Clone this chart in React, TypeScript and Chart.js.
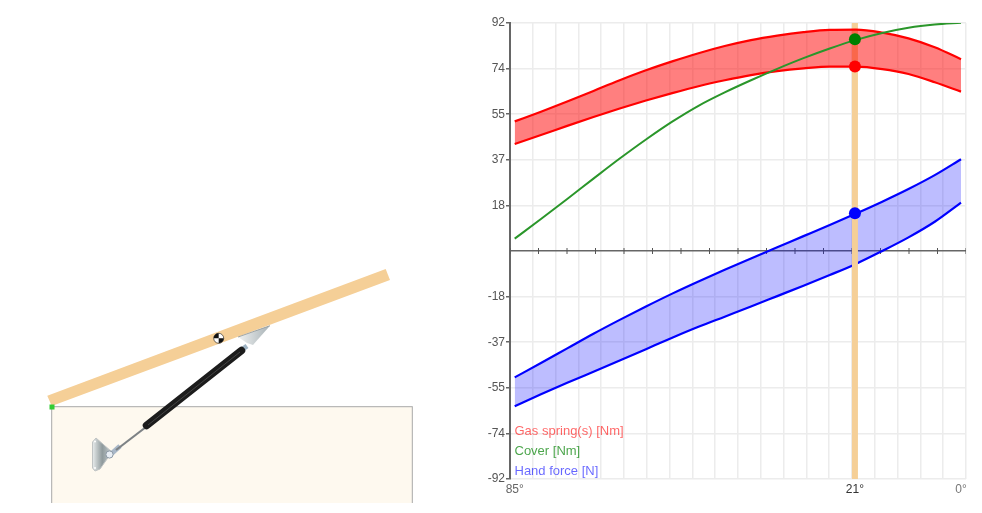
import React, { useEffect, useRef } from "react";
import { Chart, registerables } from "chart.js";

Chart.register(...registerables);

const angles = [85, 80, 75, 70, 65, 60, 55, 50, 45, 40, 35, 30, 25, 20, 15, 10, 5, 0];
const gasUpper = [52.3, 56.2, 60.3, 64.6, 68.9, 72.9, 76.5, 79.8, 82.7, 85.1, 86.9, 88.3, 89.2, 89.3, 88.1, 85.8, 82.2, 77.4];
const gasLower = [43.2, 46.8, 50.5, 54.1, 57.5, 60.7, 63.7, 66.5, 68.9, 71, 72.6, 73.7, 74.4, 74.4, 73.4, 71.4, 68.1, 64.3];
const cover = [5, 12.9, 21, 29.2, 37.3, 45, 52.2, 58.6, 64, 68.9, 73.5, 77.8, 81.7, 85.2, 88, 90.1, 91.4, 92.1];
const handUpper = [-51, -45.2, -39.3, -33.4, -27.8, -22.4, -17.2, -12.3, -7.6, -3, 1.5, 6, 10.5, 15.1, 19.9, 25, 30.6, 37];
const handLower = [-62.6, -57.8, -53.2, -48.7, -44.2, -39.6, -35, -30.6, -26.5, -22.4, -18.2, -14, -9.7, -5.2, 0, 5.5, 11.8, 19.5];

const cursorAngle = 20.2;
const cursorGas = 74.4;
const cursorCover = 85.4;
const cursorHand = 15.2;

const yTicks = [-92, -73.6, -55.2, -36.8, -18.4, 0, 18.4, 36.8, 55.2, 73.6, 92];
const xLabelAngles = [85, cursorAngle, 0];
const xLabels = ["85°", "21°", "0°"];
const xLabelColors = ["#666666", "#333333", "#777777"];
const legendNames = ["Gas spring(s) [Nm]", "Cover [Nm]", "Hand force [N]"];
const legendColors = ["rgba(255,0,0,0.6)", "rgba(0,128,0,0.7)", "rgba(0,0,255,0.6)"];

const X_MIN = -0.952;
const X_MAX = 85.895;
const GRID_DIVS = 20;
const TICK_DIVS = 16;
const FONT = "'Liberation Sans', Arial, sans-serif";

const pts = (ys: number[]) => angles.map((x, i) => ({ x, y: ys[i] }));
const axisMarks = Array.from({ length: TICK_DIVS + 1 }, (_, k) => ({
  x: X_MIN + (k * (X_MAX - X_MIN)) / TICK_DIVS,
  y: 0,
}));

const legendShift = {
  id: "legendShift",
  afterLayout: (c: any) => {
    if (c.legend) c.legend.bottom += 29;
  },
};

function Illustration() {
  return (
    <svg
      width={483}
      height={503}
      style={{ position: "absolute", left: 0, top: 0 }}
      viewBox="0 0 483 503"
    >
      <defs>
        <linearGradient id="plate" x1="0" y1="0" x2="1" y2="0">
          <stop offset="0" stopColor="#e8ecec" />
          <stop offset="0.5" stopColor="#8f9a9c" />
          <stop offset="1" stopColor="#c8d0d2" />
        </linearGradient>
        <linearGradient id="wedge" x1="0" y1="0" x2="1" y2="0">
          <stop offset="0" stopColor="#f0f2f2" />
          <stop offset="1" stopColor="#a8b2b6" />
        </linearGradient>
      </defs>
      <rect x={51.7} y={406.7} width={360.6} height={97} fill="#fef9ef" stroke="#a8a8a8" strokeWidth={1} />
      <polygon points="47.3,395.7 385.7,269 390,280 51.7,406" fill="#f5cf97" />
      <rect x={49.5} y={404.5} width={5} height={5} fill="#33cc33" />
      <polygon points="238,337 270,325.7 253,345 247,343" fill="url(#wedge)" />
      <line x1={270} y1={325.7} x2={238} y2={337} stroke="#8a9090" strokeWidth={0.8} />
      <line x1={247} y1={346} x2={240} y2={351} stroke="#9fb4c4" strokeWidth={5} />
      <polygon points="92.5,442 96,438 112,452 100,469 95,471 92.5,468" fill="url(#plate)" stroke="#c0c4c4" strokeWidth={1} />
      <circle cx={95} cy={441.5} r={1} fill="#ffffff" />
      <circle cx={95} cy={468} r={1} fill="#ffffff" />
      <line x1={110} y1={455} x2={120} y2={446} stroke="#a9b8c8" strokeWidth={5} />
      <line x1={116} y1={450} x2={146} y2={427} stroke="#7d8285" strokeWidth={2.2} />
      <circle cx={109.5} cy={454.5} r={3.6} fill="#e8eef4" stroke="#8d9aa6" strokeWidth={1} />
      <line x1={146.5} y1={425.5} x2={241.5} y2={350.5} stroke="#1c1c1c" strokeWidth={7.5} strokeLinecap="round" />
      <line x1={148} y1={425} x2={240} y2={352} stroke="#444444" strokeWidth={1} />
      <circle cx={218.7} cy={338.3} r={5} fill="#ffffff" stroke="#111" strokeWidth={0.6} />
      <path d="M218.7 338.3 L218.7 333.3 A5 5 0 0 0 213.7 338.3 Z" fill="#111" />
      <path d="M218.7 338.3 L218.7 343.3 A5 5 0 0 0 223.7 338.3 Z" fill="#111" />
      <line x1={483.5} y1={0} x2={483.5} y2={503} stroke="#eeeeee" strokeWidth={1} />
      <line x1={0} y1={503.5} x2={982} y2={503.5} stroke="#eeeeee" strokeWidth={1} />
    </svg>
  );
}

export default function App() {
  const ref = useRef<HTMLCanvasElement | null>(null);

  useEffect(() => {
    if (!ref.current) return;
    const chart = new Chart(ref.current, {
      type: "scatter",
      plugins: [legendShift],
      data: {
        datasets: [
          {
            label: "Cursor points",
            data: [
              { x: cursorAngle, y: cursorCover },
              { x: cursorAngle, y: cursorGas },
              { x: cursorAngle, y: cursorHand },
            ],
            backgroundColor: ["#008000", "#ff0000", "#0000ff"],
            borderWidth: 0,
            pointRadius: 6,
            showLine: false,
            order: 0,
          },
          {
            label: "Cover [Nm]",
            data: pts(cover),
            borderColor: "#2a962a",
            borderWidth: 2,
            pointRadius: 0,
            showLine: true,
            cubicInterpolationMode: "monotone",
            order: 1,
          },
          {
            label: "Gas spring upper",
            data: pts(gasUpper),
            borderColor: "#ff0000",
            borderWidth: 2.2,
            pointRadius: 0,
            showLine: true,
            cubicInterpolationMode: "monotone",
            fill: { target: 3 },
            backgroundColor: "rgba(255,0,0,0.5)",
            order: 3,
          },
          {
            label: "Gas spring lower",
            data: pts(gasLower),
            borderColor: "#ff0000",
            borderWidth: 2.2,
            pointRadius: 0,
            showLine: true,
            cubicInterpolationMode: "monotone",
            order: 3,
          },
          {
            label: "Cursor",
            data: [
              { x: cursorAngle, y: -92 },
              { x: cursorAngle, y: 92 },
            ],
            borderColor: "#f5cf97",
            borderWidth: 6,
            pointRadius: 0,
            showLine: true,
            order: 4,
          },
          {
            label: "Hand force upper",
            data: pts(handUpper),
            borderColor: "#0000ff",
            borderWidth: 2.2,
            pointRadius: 0,
            showLine: true,
            cubicInterpolationMode: "monotone",
            fill: { target: 6 },
            backgroundColor: "rgba(0,0,255,0.26)",
            order: 5,
          },
          {
            label: "Hand force lower",
            data: pts(handLower),
            borderColor: "#0000ff",
            borderWidth: 2.2,
            pointRadius: 0,
            showLine: true,
            cubicInterpolationMode: "monotone",
            order: 5,
          },
          {
            label: "Axis marks",
            data: axisMarks,
            pointStyle: "line",
            rotation: 90,
            pointRadius: 3,
            borderColor: "#555555",
            borderWidth: 1,
            showLine: false,
            order: 6,
          },
        ],
      },
      options: {
        animation: false,
        responsive: false,
        devicePixelRatio: 1,
        events: [],
        layout: { padding: { top: 23, right: 16, left: 0, bottom: 0 } },
        plugins: {
          tooltip: { enabled: false },
          title: { display: false },
          legend: {
            display: true,
            position: "chartArea",
            align: "end",
            labels: {
              boxWidth: -9,
              padding: 7,
              font: { size: 13, family: FONT },
              generateLabels: () =>
                legendNames.map((text, i) => ({
                  text,
                  fontColor: legendColors[i],
                  fillStyle: "transparent",
                  strokeStyle: "transparent",
                  lineWidth: 0,
                  hidden: false,
                  datasetIndex: i,
                })),
            },
          },
        },
        scales: {
          x: {
            type: "linear",
            reverse: true,
            min: X_MIN,
            max: X_MAX,
            position: "bottom",
            afterBuildTicks: (s: any) => {
              s.ticks = Array.from({ length: GRID_DIVS + 1 }, (_, k) => ({
                value: X_MIN + (k * (X_MAX - X_MIN)) / GRID_DIVS,
              }));
            },
            afterFit: (s: any) => {
              s.height = 0;
            },
            ticks: { display: false },
            border: { display: false },
            grid: { color: "#ececec", lineWidth: 1.5, drawTicks: false },
          },
          xLabels: {
            type: "linear",
            reverse: true,
            min: X_MIN,
            max: X_MAX,
            position: "bottom",
            afterBuildTicks: (s: any) => {
              s.ticks = xLabelAngles.map((value) => ({ value }));
            },
            afterFit: (s: any) => {
              s.height = 24;
            },
            border: { display: false },
            grid: { display: false, drawTicks: false, tickLength: 0 },
            ticks: {
              autoSkip: false,
              maxRotation: 0,
              padding: 3,
              font: { size: 12, family: FONT },
              color: (c: any) => xLabelColors[c.index],
              callback: (_v: any, i: number) => xLabels[i],
            },
          },
          y: {
            type: "linear",
            min: -92,
            max: 92,
            afterBuildTicks: (s: any) => {
              s.ticks = yTicks.map((value) => ({ value }));
            },
            afterFit: (s: any) => {
              s.width = 27;
            },
            border: { color: "#666666", width: 2 },
            grid: {
              color: (c: any) => (c.tick.value === 0 ? "#666666" : "#ececec"),
              lineWidth: 1.5,
              tickColor: (c: any) => (c.tick.value === 0 ? "rgba(0,0,0,0)" : "#666666"),
              tickLength: 4,
            },
            ticks: {
              autoSkip: false,
              padding: 1,
              font: { size: 12, family: FONT },
              color: "#555555",
              callback: (v: any) => (v === 0 ? "" : String(Math.round(Number(v)))),
            },
          },
        },
      },
    } as any);
    return () => chart.destroy();
  }, []);

  return (
    <div style={{ position: "absolute", left: 0, top: 0, width: 982, height: 513, background: "#ffffff", overflow: "hidden" }}>
      <Illustration />
      <canvas
        ref={ref}
        width={499}
        height={503}
        style={{ position: "absolute", left: 483, top: 0, width: 499, height: 503 }}
      />
    </div>
  );
}
